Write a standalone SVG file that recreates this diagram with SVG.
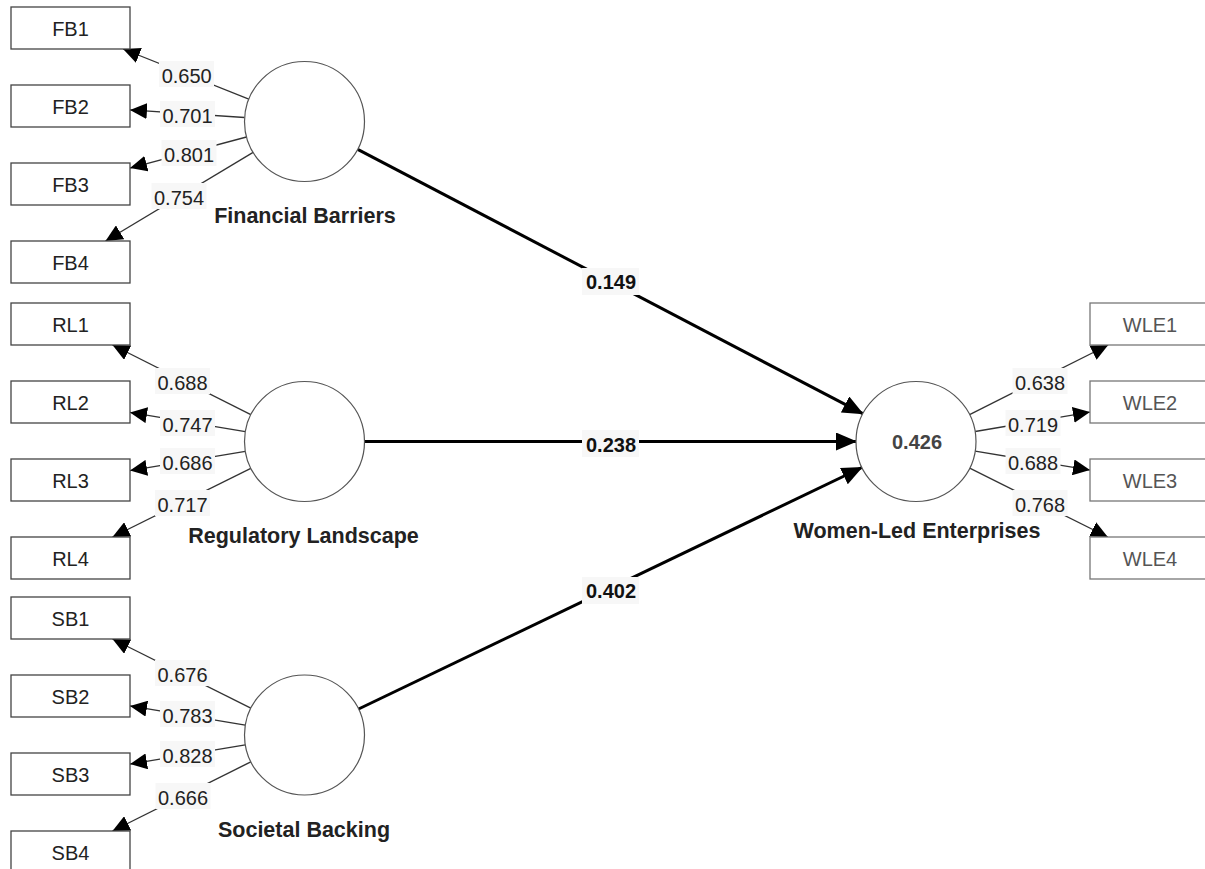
<svg xmlns="http://www.w3.org/2000/svg" width="1205" height="869" viewBox="0 0 1205 869">
<defs>
<marker id="ah" markerUnits="userSpaceOnUse" markerWidth="17" markerHeight="16" refX="17" refY="8" orient="auto" viewBox="0 0 17 16"><path d="M0,0 L17,8 L0,16 z" fill="#000"/></marker>
<marker id="ahp" markerUnits="userSpaceOnUse" markerWidth="21" markerHeight="18" refX="20" refY="9" orient="auto" viewBox="0 0 21 18"><path d="M0,0 L21,9 L0,18 z" fill="#000"/></marker>
<style>
.box{fill:#fff;stroke:#444;stroke-width:1.3}
.boxg{fill:#fff;stroke:#777;stroke-width:1.3}
.circ{fill:#fff;stroke:#555;stroke-width:1.2}
.ind{font-family:"Liberation Sans",Arial,sans-serif;font-size:20px;fill:#222;text-anchor:middle}
.indg{font-family:"Liberation Sans",Arial,sans-serif;font-size:20px;fill:#555;text-anchor:middle}
.cl{font-family:"Liberation Sans",Arial,sans-serif;font-size:21.5px;font-weight:bold;fill:#222;text-anchor:middle}
.r2{font-family:"Liberation Sans",Arial,sans-serif;font-size:20px;font-weight:bold;fill:#444;text-anchor:middle}
.ld{stroke:#333;stroke-width:1.3;fill:none;marker-end:url(#ah)}
.pth{stroke:#000;stroke-width:3;fill:none;marker-end:url(#ahp)}
.lb{fill:#f7f7f7}
.lt{font-family:"Liberation Sans",Arial,sans-serif;font-size:20px;fill:#222;text-anchor:middle}
.pt{font-family:"Liberation Sans",Arial,sans-serif;font-size:20px;font-weight:bold;fill:#111;text-anchor:middle}
</style>
</defs>
<rect width="1205" height="869" fill="#fff"/>
<g id="connectors">
<line class="ld" x1="248.8" y1="99.2" x2="123.1" y2="49"/>
<line class="ld" x1="244.6" y1="117.5" x2="130" y2="109.9"/>
<line class="ld" x1="246.5" y1="137" x2="130" y2="168.1"/>
<line class="ld" x1="253.1" y1="152.4" x2="105.5" y2="241"/>
<line class="ld" x1="250.8" y1="414.7" x2="112.5" y2="345"/>
<line class="ld" x1="245.3" y1="431.6" x2="130" y2="412.4"/>
<line class="ld" x1="245.3" y1="451.4" x2="130" y2="470.6"/>
<line class="ld" x1="250.8" y1="468.3" x2="112.5" y2="537"/>
<line class="ld" x1="250.8" y1="708.2" x2="112.5" y2="639"/>
<line class="ld" x1="245.3" y1="725.1" x2="130" y2="705.9"/>
<line class="ld" x1="245.3" y1="744.9" x2="130" y2="764.1"/>
<line class="ld" x1="250.8" y1="761.8" x2="112.5" y2="831"/>
<line class="ld" x1="969.6" y1="414.6" x2="1108.2" y2="345"/>
<line class="ld" x1="975.2" y1="431.5" x2="1090" y2="412.1"/>
<line class="ld" x1="975.2" y1="451.2" x2="1090" y2="470.1"/>
<line class="ld" x1="969.7" y1="468.2" x2="1107.8" y2="537"/>
<line class="pth" x1="357.7" y1="149.3" x2="862.8" y2="413.7"/>
<line class="pth" x1="364.5" y1="441.5" x2="856" y2="441.5"/>
<line class="pth" x1="358.6" y1="709" x2="861.9" y2="467.5"/>
<g id="loading-labels">
<rect class="lb" x="159" y="61" width="55" height="26"/><text class="lt" x="186.7" y="83">0.650</text>
<rect class="lb" x="160" y="101" width="55" height="26"/><text class="lt" x="187.5" y="123">0.701</text>
<rect class="lb" x="161.5" y="140" width="55" height="26"/><text class="lt" x="189" y="162">0.801</text>
<rect class="lb" x="151.5" y="183" width="55" height="26"/><text class="lt" x="179" y="205">0.754</text>
<rect class="lb" x="155" y="368" width="55" height="26"/><text class="lt" x="182.5" y="390">0.688</text>
<rect class="lb" x="160" y="410" width="55" height="26"/><text class="lt" x="187.5" y="432">0.747</text>
<rect class="lb" x="160" y="448" width="55" height="26"/><text class="lt" x="187.5" y="470">0.686</text>
<rect class="lb" x="155" y="490" width="55" height="26"/><text class="lt" x="182.5" y="512">0.717</text>
<rect class="lb" x="155" y="660" width="55" height="26"/><text class="lt" x="182.5" y="682">0.676</text>
<rect class="lb" x="160" y="701" width="55" height="26"/><text class="lt" x="187.5" y="723">0.783</text>
<rect class="lb" x="160" y="741" width="55" height="26"/><text class="lt" x="187.5" y="763">0.828</text>
<rect class="lb" x="155.5" y="783" width="55" height="26"/><text class="lt" x="183" y="805">0.666</text>
<rect class="lb" x="1012.5" y="368" width="55" height="26"/><text class="lt" x="1040" y="390">0.638</text>
<rect class="lb" x="1005.5" y="410" width="55" height="26"/><text class="lt" x="1033" y="432">0.719</text>
<rect class="lb" x="1005.5" y="448" width="55" height="26"/><text class="lt" x="1033" y="470">0.688</text>
<rect class="lb" x="1012.5" y="490" width="55" height="26"/><text class="lt" x="1040" y="512">0.768</text>
</g>
<g id="path-labels">
<rect class="lb" x="582" y="268" width="57" height="27"/><text class="pt" x="611" y="289">0.149</text>
<rect class="lb" x="582" y="430" width="57" height="27"/><text class="pt" x="611" y="451.5">0.238</text>
<rect class="lb" x="582" y="577" width="57" height="27"/><text class="pt" x="611" y="598">0.402</text>
</g>
</g>
<g id="FB1"><rect class="box" x="11" y="7" width="119" height="42"/><text class="ind" x="70.5" y="36">FB1</text></g>
<g id="FB2"><rect class="box" x="11" y="85" width="119" height="42"/><text class="ind" x="70.5" y="114">FB2</text></g>
<g id="FB3"><rect class="box" x="11" y="163" width="119" height="42"/><text class="ind" x="70.5" y="192">FB3</text></g>
<g id="FB4"><rect class="box" x="11" y="241" width="119" height="42"/><text class="ind" x="70.5" y="270">FB4</text></g>
<g id="RL1"><rect class="box" x="11" y="303" width="119" height="42"/><text class="ind" x="70.5" y="332">RL1</text></g>
<g id="RL2"><rect class="box" x="11" y="381" width="119" height="42"/><text class="ind" x="70.5" y="410">RL2</text></g>
<g id="RL3"><rect class="box" x="11" y="459" width="119" height="42"/><text class="ind" x="70.5" y="488">RL3</text></g>
<g id="RL4"><rect class="box" x="11" y="537" width="119" height="42"/><text class="ind" x="70.5" y="566">RL4</text></g>
<g id="SB1"><rect class="box" x="11" y="597" width="119" height="42"/><text class="ind" x="70.5" y="626">SB1</text></g>
<g id="SB2"><rect class="box" x="11" y="675" width="119" height="42"/><text class="ind" x="70.5" y="704">SB2</text></g>
<g id="SB3"><rect class="box" x="11" y="753" width="119" height="42"/><text class="ind" x="70.5" y="782">SB3</text></g>
<g id="SB4"><rect class="box" x="11" y="831" width="119" height="42"/><text class="ind" x="70.5" y="860">SB4</text></g>
<g id="WLE1"><rect class="boxg" x="1090" y="303" width="120" height="42"/><text class="indg" x="1150" y="332">WLE1</text></g>
<g id="WLE2"><rect class="boxg" x="1090" y="381" width="120" height="42"/><text class="indg" x="1150" y="410">WLE2</text></g>
<g id="WLE3"><rect class="boxg" x="1090" y="459" width="120" height="42"/><text class="indg" x="1150" y="488">WLE3</text></g>
<g id="WLE4"><rect class="boxg" x="1090" y="537" width="120" height="42"/><text class="indg" x="1150" y="566">WLE4</text></g>
<g id="FinancialBarriers"><circle class="circ" cx="304.5" cy="121.5" r="60"/><text class="cl" x="305" y="223">Financial Barriers</text></g>
<g id="RegulatoryLandscape"><circle class="circ" cx="304.5" cy="441.5" r="60"/><text class="cl" x="303.5" y="543">Regulatory Landscape</text></g>
<g id="SocietalBacking"><circle class="circ" cx="304.5" cy="735" r="60"/><text class="cl" x="304" y="837">Societal Backing</text></g>
<g id="WomenLedEnterprises"><circle class="circ" cx="916" cy="441.5" r="60"/><text class="r2" x="917" y="449">0.426</text><text class="cl" x="917" y="538">Women-Led Enterprises</text></g>
</svg>
